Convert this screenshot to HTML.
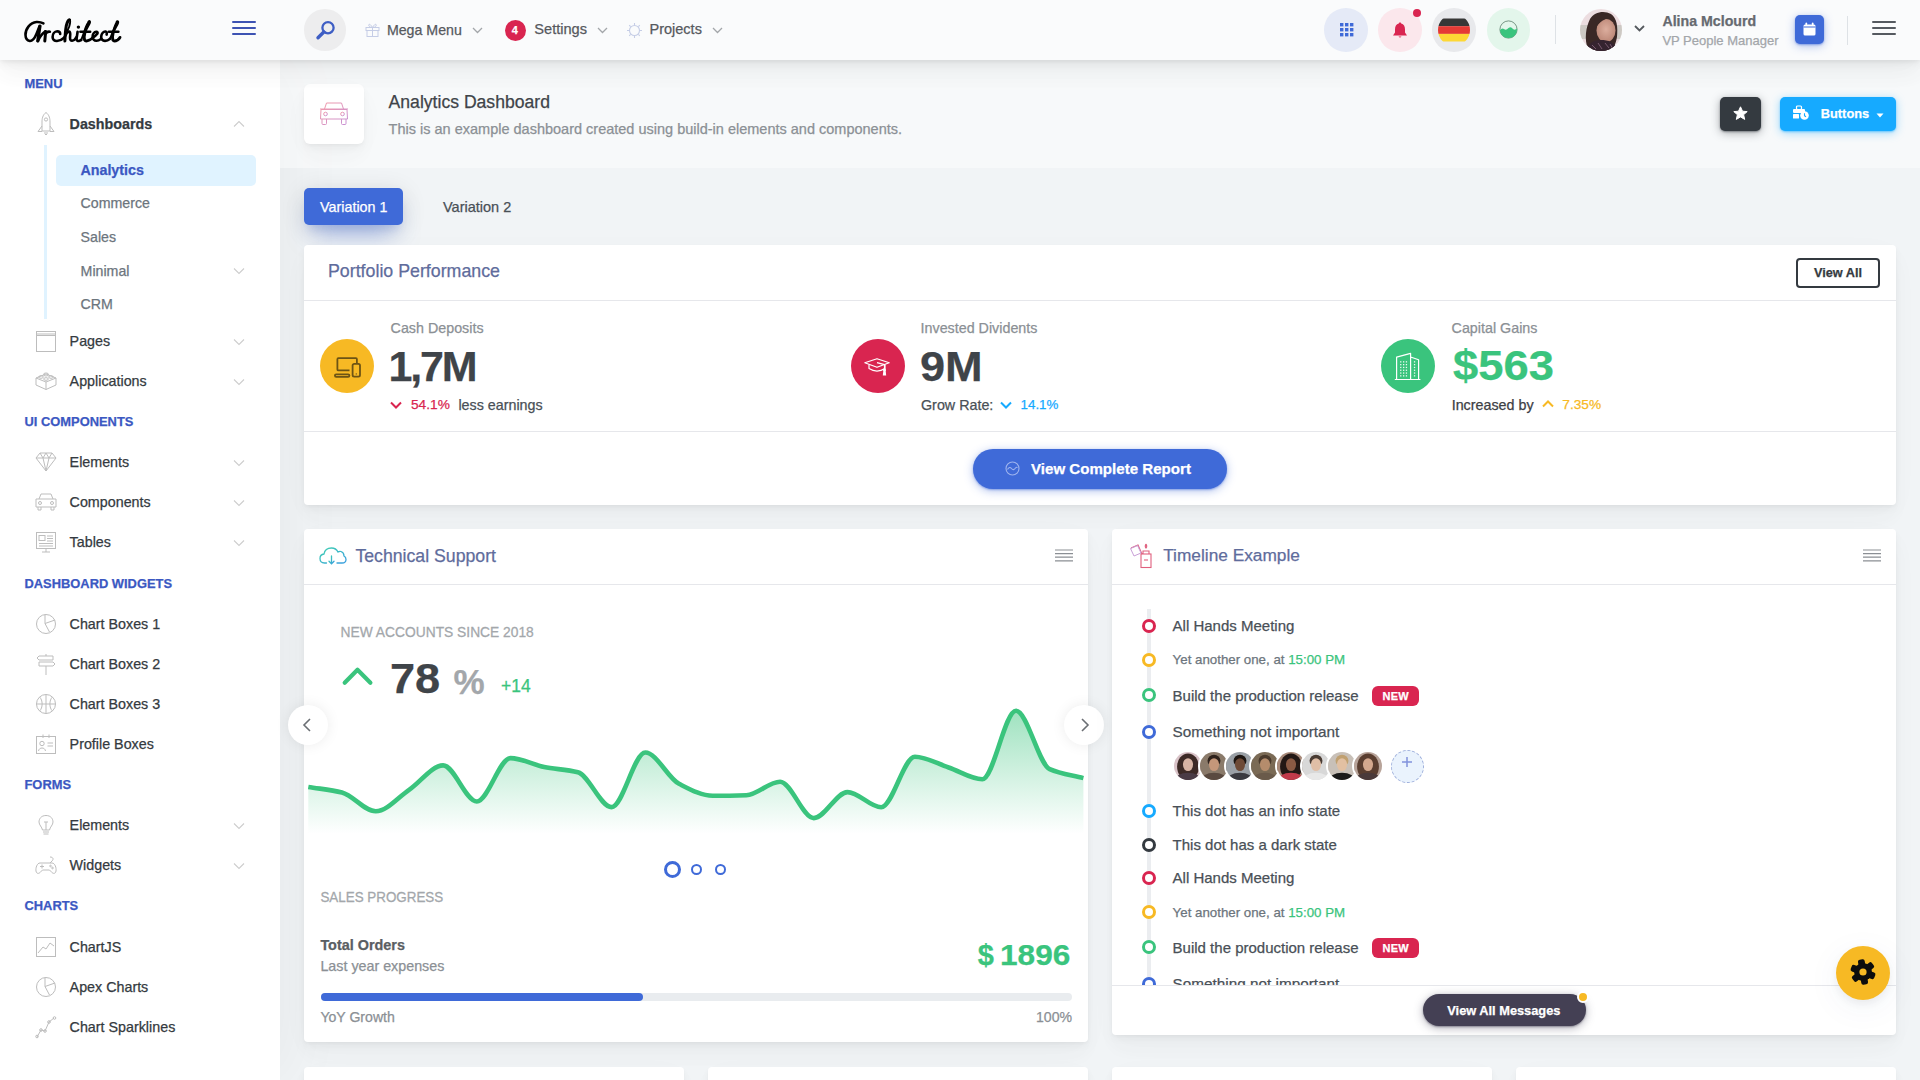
<!DOCTYPE html>
<html><head><meta charset="utf-8"><title>Analytics Dashboard</title>
<style>
html,body{margin:0;padding:0;width:1920px;height:1080px;overflow:hidden;background:#f1f4f6;font-family:"Liberation Sans",sans-serif;}
.a{position:absolute;}
.t{position:absolute;line-height:1;white-space:nowrap;-webkit-text-stroke:0.25px currentColor;}
svg.a{overflow:visible}
</style></head><body>
<div class="a" style="left:0px;top:60px;width:280px;height:1020px;background:#fff;box-shadow:7px 0 60px rgba(0,0,0,.05)"></div>
<div class="t" style="left:24.5px;top:78.03px;font-size:12.9px;color:#3b58c2;font-weight:bold;">MENU</div>
<div class="t" style="left:24.5px;top:416.04px;font-size:12.9px;color:#3b58c2;font-weight:bold;">UI COMPONENTS</div>
<div class="t" style="left:24.5px;top:578.03px;font-size:12.9px;color:#3b58c2;font-weight:bold;">DASHBOARD WIDGETS</div>
<div class="t" style="left:24.5px;top:779.03px;font-size:12.9px;color:#3b58c2;font-weight:bold;">FORMS</div>
<div class="t" style="left:24.5px;top:900.03px;font-size:12.9px;color:#3b58c2;font-weight:bold;">CHARTS</div>
<svg class="a" style="left:35px;top:112px;" width="22" height="24" viewBox="0 0 22 24" fill="none"><path d="M11 0.5 C7.5 3 7 7 7 10 L7 19 L15 19 L15 10 C15 7 14.5 3 11 0.5Z" stroke="#bdbdbd" stroke-width="1"/><circle cx="11" cy="7.5" r="1.6" stroke="#bdbdbd" stroke-width="1"/><path d="M7 14 L3 19.5 L7 19.5 M15 14 L19 19.5 L15 19.5 M9 21 L13 21 M10 22.5 L12 22.5" stroke="#bdbdbd" stroke-width="1"/></svg>
<div class="t" style="left:69.6px;top:117.04px;font-size:14.3px;color:#343a40;font-weight:bold;">Dashboards</div>
<svg class="a" style="left:233px;top:120px;" width="12" height="8" viewBox="0 0 12 8" fill="none"><path d="M1 6.5 L6 1.5 L11 6.5" stroke="#cdcdcd" stroke-width="1.1"/></svg>
<svg class="a" style="left:35px;top:330px;" width="22" height="23" viewBox="0 0 22 23" fill="none"><rect x="1.5" y="1.5" width="19" height="20" stroke="#bdbdbd" stroke-width="1"/><path d="M1.5 4 L20.5 4 M1.5 5.5 L20.5 5.5" stroke="#bdbdbd" stroke-width="1"/></svg>
<div class="t" style="left:69.6px;top:334.04px;font-size:14.3px;color:#343a40;font-weight:normal;">Pages</div>
<svg class="a" style="left:233px;top:337.5px;" width="12" height="8" viewBox="0 0 12 8" fill="none"><path d="M1 1.5 L6 6.5 L11 1.5" stroke="#cdcdcd" stroke-width="1.1"/></svg>
<svg class="a" style="left:35px;top:370px;" width="22" height="22" viewBox="0 0 22 22" fill="none"><path d="M1 8 L11 4 L21 8 L21 15 L11 19.5 L1 15 Z M1 8 L11 12 L21 8 M11 12 L11 19.5" stroke="#bdbdbd" stroke-width="1"/><ellipse cx="11" cy="4.5" rx="2.5" ry="1.5" stroke="#bdbdbd" stroke-width="1"/><ellipse cx="6" cy="7" rx="2.3" ry="1.3" stroke="#bdbdbd" stroke-width="1"/><ellipse cx="16" cy="7" rx="2.3" ry="1.3" stroke="#bdbdbd" stroke-width="1"/><ellipse cx="11" cy="9" rx="2.3" ry="1.3" stroke="#bdbdbd" stroke-width="1"/></svg>
<div class="t" style="left:69.6px;top:374.04px;font-size:14.3px;color:#343a40;font-weight:normal;">Applications</div>
<svg class="a" style="left:233px;top:377.5px;" width="12" height="8" viewBox="0 0 12 8" fill="none"><path d="M1 1.5 L6 6.5 L11 1.5" stroke="#cdcdcd" stroke-width="1.1"/></svg>
<svg class="a" style="left:35px;top:451px;" width="22" height="22" viewBox="0 0 22 22" fill="none"><path d="M1 7 L5 2 L17 2 L21 7 L11 20 Z M1 7 L21 7 M5 2 L8 7 L11 20 L14 7 L17 2 M8 7 L11 2 L14 7" stroke="#bdbdbd" stroke-width="1"/></svg>
<div class="t" style="left:69.6px;top:455.04px;font-size:14.3px;color:#343a40;font-weight:normal;">Elements</div>
<svg class="a" style="left:233px;top:458.5px;" width="12" height="8" viewBox="0 0 12 8" fill="none"><path d="M1 1.5 L6 6.5 L11 1.5" stroke="#cdcdcd" stroke-width="1.1"/></svg>
<svg class="a" style="left:35px;top:491px;" width="22" height="22" viewBox="0 0 22 22" fill="none"><path d="M4 8 L6 3 L16 3 L18 8 M1 8 L21 8 L21 16 L1 16 Z M3 16 L3 19 L6 19 L6 16 M16 16 L16 19 L19 19 L19 16" stroke="#bdbdbd" stroke-width="1"/><circle cx="5" cy="12" r="1.5" stroke="#bdbdbd" stroke-width="1"/><circle cx="17" cy="12" r="1.5" stroke="#bdbdbd" stroke-width="1"/></svg>
<div class="t" style="left:69.6px;top:495.04px;font-size:14.3px;color:#343a40;font-weight:normal;">Components</div>
<svg class="a" style="left:233px;top:498.5px;" width="12" height="8" viewBox="0 0 12 8" fill="none"><path d="M1 1.5 L6 6.5 L11 1.5" stroke="#cdcdcd" stroke-width="1.1"/></svg>
<svg class="a" style="left:35px;top:531px;" width="22" height="22" viewBox="0 0 22 22" fill="none"><rect x="1.5" y="1.5" width="19" height="16" stroke="#bdbdbd" stroke-width="1"/><rect x="4" y="4.5" width="6" height="5" stroke="#bdbdbd" stroke-width="1"/><path d="M12 5 L18 5 M12 7.5 L18 7.5 M12 10 L18 10 M4 12.5 L18 12.5 M4 15 L18 15 M11 17.5 L11 21 M7 21 L15 21" stroke="#bdbdbd" stroke-width="1"/></svg>
<div class="t" style="left:69.6px;top:535.05px;font-size:14.3px;color:#343a40;font-weight:normal;">Tables</div>
<svg class="a" style="left:233px;top:538.5px;" width="12" height="8" viewBox="0 0 12 8" fill="none"><path d="M1 1.5 L6 6.5 L11 1.5" stroke="#cdcdcd" stroke-width="1.1"/></svg>
<svg class="a" style="left:35px;top:613px;" width="22" height="22" viewBox="0 0 22 22" fill="none"><circle cx="11" cy="11" r="9.5" stroke="#bdbdbd" stroke-width="1"/><path d="M10 1.5 L10 10.5 L14.5 19 M10 10.5 L20 7" stroke="#bdbdbd" stroke-width="1"/></svg>
<div class="t" style="left:69.6px;top:617.05px;font-size:14.3px;color:#343a40;font-weight:normal;">Chart Boxes 1</div>
<svg class="a" style="left:35px;top:653px;" width="22" height="22" viewBox="0 0 22 22" fill="none"><path d="M11 1 L11 3 M4 3 L18 3 L18 7 L4 7 L2 5 Z M4 9 L18 9 L20 11 L18 13 L4 13 Z M11 13 L11 22" stroke="#bdbdbd" stroke-width="1"/></svg>
<div class="t" style="left:69.6px;top:657.05px;font-size:14.3px;color:#343a40;font-weight:normal;">Chart Boxes 2</div>
<svg class="a" style="left:35px;top:693px;" width="22" height="22" viewBox="0 0 22 22" fill="none"><circle cx="11" cy="11" r="9.5" stroke="#bdbdbd" stroke-width="1"/><path d="M11 1.5 L11 20.5 M1.5 11 L20.5 11 M4.5 4 C8 7 8 15 4.5 18 M17.5 4 C14 7 14 15 17.5 18" stroke="#bdbdbd" stroke-width="1"/></svg>
<div class="t" style="left:69.6px;top:697.05px;font-size:14.3px;color:#343a40;font-weight:normal;">Chart Boxes 3</div>
<svg class="a" style="left:35px;top:733px;" width="22" height="22" viewBox="0 0 22 22" fill="none"><rect x="1.5" y="3.5" width="19" height="17" stroke="#bdbdbd" stroke-width="1"/><path d="M8 1.5 L8 5 M14 1.5 L14 5 M12.5 10 L18 10 M12.5 13 L18 13 M3.5 18 C4 14 10 14 10.5 18" stroke="#bdbdbd" stroke-width="1"/><circle cx="7" cy="10.5" r="2.2" stroke="#bdbdbd" stroke-width="1"/></svg>
<div class="t" style="left:69.6px;top:737.05px;font-size:14.3px;color:#343a40;font-weight:normal;">Profile Boxes</div>
<svg class="a" style="left:35px;top:814px;" width="22" height="22" viewBox="0 0 22 22" fill="none"><path d="M11 1.5 C6 1.5 4 5 4 8 C4 11 7 13 7.5 16 L14.5 16 C15 13 18 11 18 8 C18 5 16 1.5 11 1.5 Z M8 18 L14 18 M8.5 20 L13.5 20 M11 8 L11 16 M9 8 L13 8" stroke="#bdbdbd" stroke-width="1"/></svg>
<div class="t" style="left:69.6px;top:818.05px;font-size:14.3px;color:#343a40;font-weight:normal;">Elements</div>
<svg class="a" style="left:233px;top:821.5px;" width="12" height="8" viewBox="0 0 12 8" fill="none"><path d="M1 1.5 L6 6.5 L11 1.5" stroke="#cdcdcd" stroke-width="1.1"/></svg>
<svg class="a" style="left:35px;top:854px;" width="22" height="22" viewBox="0 0 22 22" fill="none"><path d="M5 9 L17 9 C20 9 21.5 14 21 17 C20.5 20 18 20 16.5 18 L14.5 16 L7.5 16 L5.5 18 C4 20 1.5 20 1 17 C0.5 14 2 9 5 9 Z M5 12.5 L9 12.5 M7 10.5 L7 14.5 M15 3 C18 3 19 5 17 7 L15 9" stroke="#bdbdbd" stroke-width="1"/><circle cx="15.5" cy="12" r="0.8" stroke="#bdbdbd" stroke-width="1"/><circle cx="17.5" cy="14" r="0.8" stroke="#bdbdbd" stroke-width="1"/></svg>
<div class="t" style="left:69.6px;top:858.05px;font-size:14.3px;color:#343a40;font-weight:normal;">Widgets</div>
<svg class="a" style="left:233px;top:861.5px;" width="12" height="8" viewBox="0 0 12 8" fill="none"><path d="M1 1.5 L6 6.5 L11 1.5" stroke="#cdcdcd" stroke-width="1.1"/></svg>
<svg class="a" style="left:35px;top:936px;" width="22" height="22" viewBox="0 0 22 22" fill="none"><rect x="1.5" y="1.5" width="19" height="19" stroke="#bdbdbd" stroke-width="1"/><path d="M3 17 L8 11 L11 13 L15 7 L19 10" stroke="#bdbdbd" stroke-width="1"/></svg>
<div class="t" style="left:69.6px;top:940.05px;font-size:14.3px;color:#343a40;font-weight:normal;">ChartJS</div>
<svg class="a" style="left:35px;top:976px;" width="22" height="22" viewBox="0 0 22 22" fill="none"><circle cx="11" cy="11" r="9.5" stroke="#bdbdbd" stroke-width="1"/><path d="M10 1.5 L10 10.5 L14.5 19 M10 10.5 L20 7" stroke="#bdbdbd" stroke-width="1"/></svg>
<div class="t" style="left:69.6px;top:980.05px;font-size:14.3px;color:#343a40;font-weight:normal;">Apex Charts</div>
<svg class="a" style="left:35px;top:1016px;" width="22" height="22" viewBox="0 0 22 22" fill="none"><path d="M2 21 L6 14 L10 15 L14 6 L19 2" stroke="#bdbdbd" stroke-width="1"/><circle cx="2" cy="20.5" r="1.3" stroke="#bdbdbd" stroke-width="1"/><circle cx="6" cy="14" r="1.3" stroke="#bdbdbd" stroke-width="1"/><circle cx="10" cy="15" r="1.3" stroke="#bdbdbd" stroke-width="1"/><circle cx="14" cy="6" r="1.3" stroke="#bdbdbd" stroke-width="1"/><circle cx="19.5" cy="2" r="1.3" stroke="#bdbdbd" stroke-width="1"/></svg>
<div class="t" style="left:69.6px;top:1020.05px;font-size:14.3px;color:#343a40;font-weight:normal;">Chart Sparklines</div>
<div class="a" style="left:44px;top:145px;width:3px;height:174px;background:#e0f3ff"></div>
<div class="a" style="left:56px;top:154.5px;width:200px;height:31px;background:#e0f3ff;border-radius:5px"></div>
<div class="t" style="left:80.4px;top:163.04px;font-size:14.3px;color:#3b58c2;font-weight:bold;">Analytics</div>
<div class="t" style="left:80.6px;top:195.93px;font-size:14.2px;color:#6c757d;font-weight:normal;">Commerce</div>
<div class="t" style="left:80.6px;top:229.93px;font-size:14.2px;color:#6c757d;font-weight:normal;">Sales</div>
<div class="t" style="left:80.6px;top:263.93px;font-size:14.2px;color:#6c757d;font-weight:normal;">Minimal</div>
<div class="t" style="left:80.6px;top:296.93px;font-size:14.2px;color:#6c757d;font-weight:normal;">CRM</div>
<svg class="a" style="left:233px;top:267px;" width="12" height="8" viewBox="0 0 12 8" fill="none"><path d="M1 1.5 L6 6.5 L11 1.5" stroke="#cdcdcd" stroke-width="1.1"/></svg>
<div class="a" style="left:280px;top:60px;width:1640px;height:108px;background:rgba(255,255,255,.45)"></div>
<div class="a" style="left:304px;top:84px;width:60px;height:60px;background:#fff;border-radius:6px;box-shadow:0 .46875rem 2.1875rem rgba(4,9,20,.02),0 .9375rem 1.40625rem rgba(4,9,20,.02),0 .25rem .53125rem rgba(4,9,20,.035),0 .125rem .1875rem rgba(4,9,20,.025);"></div>
<svg class="a" style="left:319px;top:101px;" width="30" height="26" viewBox="0 0 30 26" fill="none"><defs><linearGradient id="cg" x1="0" y1="0" x2="1" y2="1"><stop offset="0" stop-color="#f07a8a"/><stop offset="1" stop-color="#b56cc8"/></linearGradient></defs>
<g stroke="url(#cg)" stroke-width="1" opacity=".75"><path d="M5.5 8 L7.5 2 L22.5 2 L24.5 8 M1 8 L29 8 M2 8.5 L28 8.5 L28.5 18 L1.5 18 Z M3 18 L3 22.5 Q3 23.5 4 23.5 L6.5 23.5 Q7.5 23.5 7.5 22.5 L7.5 18 M22.5 18 L22.5 22.5 Q22.5 23.5 23.5 23.5 L26 23.5 Q27 23.5 27 22.5 L27 18"/><circle cx="6.5" cy="13" r="1.8"/><circle cx="23.5" cy="13" r="1.8"/></g></svg>
<div class="t" style="left:388.6px;top:93.74px;font-size:17.6px;color:#3f4449;font-weight:normal;">Analytics Dashboard</div>
<div class="t" style="left:388.6px;top:122.27px;font-size:14.5px;color:#8b9095;font-weight:normal;">This is an example dashboard created using build-in elements and components.</div>
<div class="a" style="left:1720px;top:97px;width:41px;height:34px;background:#343a40;border-radius:5px;box-shadow:0 .125rem .625rem rgba(52,58,64,.4),0 .0625rem .125rem rgba(52,58,64,.5)"></div>
<svg class="a" style="left:1733px;top:106px;" width="15" height="15" viewBox="0 0 15 15" fill="none"><path d="M7.5 0.8 L9.5 5.2 L14.2 5.6 L10.6 8.7 L11.7 13.4 L7.5 10.9 L3.3 13.4 L4.4 8.7 L0.8 5.6 L5.5 5.2 Z" fill="#fff" stroke="#fff" stroke-width="1" stroke-linejoin="round"/></svg>
<div class="a" style="left:1780px;top:97px;width:116px;height:34px;background:#16aaff;border-radius:5px;box-shadow:0 .125rem .625rem rgba(22,170,255,.4),0 .0625rem .125rem rgba(22,170,255,.5)"></div>
<svg class="a" style="left:1792px;top:105px;" width="18" height="15" viewBox="0 0 18 15" fill="none"><g fill="#fff"><rect x="1" y="4" width="12" height="4" rx="1"/><rect x="4.5" y="1" width="5" height="3.5" rx="1" fill="none" stroke="#fff" stroke-width="1.2"/><rect x="1" y="9" width="6" height="4.5" rx="0.6"/><circle cx="12.5" cy="10.5" r="4.3"/></g><path d="M12.5 8.3 L12.5 10.7 L14 11.8" stroke="#16aaff" stroke-width="1.1" fill="none"/></svg>
<div class="t" style="left:1820.8px;top:107.92px;font-size:12.8px;color:#fff;font-weight:bold;">Buttons</div>
<svg class="a" style="left:1876px;top:113px;" width="8" height="5" viewBox="0 0 8 5" fill="none"><path d="M0.5 0.5 L7.5 0.5 L4 4.5 Z" fill="#fff"/></svg>
<div class="a" style="left:304px;top:188px;width:99px;height:37px;background:#3f6ad8;border-radius:5px;box-shadow:0 16px 26px -10px rgba(63,106,216,.56),0 4px 25px 0 rgba(0,0,0,.12),0 8px 10px -5px rgba(63,106,216,.2)"></div>
<div class="t" style="left:320.1px;top:199.75px;font-size:14.3px;color:#fff;font-weight:normal;">Variation 1</div>
<div class="t" style="left:443.0px;top:199.58px;font-size:14.5px;color:#495057;font-weight:normal;">Variation 2</div>
<div class="a" style="left:304px;top:245px;width:1592px;height:260px;background:#fff;border-radius:4px;box-shadow:0 .46875rem 2.1875rem rgba(4,9,20,.02),0 .9375rem 1.40625rem rgba(4,9,20,.02),0 .25rem .53125rem rgba(4,9,20,.035),0 .125rem .1875rem rgba(4,9,20,.025);"></div>
<div class="a" style="left:304px;top:300px;width:1592px;height:1px;background:#e6e7eb"></div>
<div class="a" style="left:304px;top:431px;width:1592px;height:1px;background:#e6e7eb"></div>
<div class="t" style="left:328.0px;top:263.17px;font-size:17.8px;color:#5f6c9c;font-weight:normal;">Portfolio Performance</div>
<div class="a" style="left:1795.5px;top:257.5px;width:84px;height:30px;border:2px solid #343a40;border-radius:4px;box-sizing:border-box"></div>
<div class="t" style="left:1814.0px;top:267.40px;font-size:12.7px;color:#343a40;font-weight:bold;">View All</div>
<div class="a" style="left:320.0px;top:339.0px;width:54px;height:54px;border-radius:50%;background:#f7b924"></div>
<svg class="a" style="left:333px;top:356px;" width="30" height="24" viewBox="0 0 30 24" fill="none"><g stroke="#6d5414" stroke-width="1.8" fill="none"><path d="M16.5 14.4 L5.4 14.4 Q4.4 14.4 4.4 13.4 L4.4 3.2 Q4.4 2.2 5.4 2.2 L22.9 2.2 Q23.9 2.2 23.9 3.2 L23.9 6.9"/><rect x="1.9" y="18.3" width="14.5" height="2.6" rx="1.3"/><rect x="19.6" y="7.8" width="7.4" height="12.9" rx="1.6"/></g><circle cx="23.3" cy="17.9" r=".7" fill="#6d5414"/></svg>
<div class="t" style="left:390.6px;top:320.85px;font-size:14.3px;color:#8b9095;font-weight:normal;">Cash Deposits</div>
<div class="t" style="left:388.5px;top:345.05px;font-size:43px;color:#3f4449;font-weight:bold;letter-spacing:-2.2px">1,7M</div>
<svg class="a" style="left:390px;top:401px;" width="12" height="8" viewBox="0 0 12 8" fill="none"><path d="M1 1.5 L6 6.5 L11 1.5" stroke="#d92550" stroke-width="2"/></svg>
<div class="t" style="left:411.0px;top:398.06px;font-size:13.7px;color:#d92550;font-weight:normal;">54.1%</div>
<div class="t" style="left:458.4px;top:397.54px;font-size:14.3px;color:#495057;font-weight:normal;">less earnings</div>
<div class="a" style="left:851.0px;top:339.0px;width:54px;height:54px;border-radius:50%;background:#d92550"></div>
<svg class="a" style="left:864px;top:356px;" width="28" height="22" viewBox="0 0 28 22" fill="none"><g stroke="#fff" stroke-width="1.2" fill="none" stroke-linejoin="round"><path d="M0.8 6.7 L13 2.7 L25.2 6.7 L13 11.3 Z"/><path d="M5 8.6 L5 12.6 Q13 17.5 21 12.6 L21 8.6"/><path d="M13 6.6 L20.5 8.6 L20.5 13.5"/></g><path d="M19.4 14 L21.6 14 L22.2 19.5 L18.8 19.5 Z" fill="#fff"/><circle cx="20.5" cy="13.8" r="1.5" fill="#fff"/></svg>
<div class="t" style="left:920.6px;top:320.85px;font-size:14.3px;color:#8b9095;font-weight:normal;">Invested Dividents</div>
<div class="t" style="left:919.8px;top:345.05px;font-size:43px;color:#3f4449;font-weight:bold;transform:scaleX(1.05);transform-origin:0 0">9M</div>
<div class="t" style="left:921.0px;top:397.54px;font-size:14.3px;color:#495057;font-weight:normal;">Grow Rate:</div>
<svg class="a" style="left:1000px;top:401px;" width="12" height="8" viewBox="0 0 12 8" fill="none"><path d="M1 1.5 L6 6.5 L11 1.5" stroke="#16aaff" stroke-width="2"/></svg>
<div class="t" style="left:1020.6px;top:398.39px;font-size:13.3px;color:#16aaff;font-weight:normal;">14.1%</div>
<div class="a" style="left:1381.0px;top:339.0px;width:54px;height:54px;border-radius:50%;background:#3ac47d"></div>
<svg class="a" style="left:1394px;top:352px;" width="28" height="30" viewBox="0 0 28 30" fill="none"><g stroke="#fff" stroke-width="1.2" fill="none" stroke-linejoin="round"><path d="M0.8 27.5 L26.4 27.5 M2.6 27.5 L2.6 5.2 L16.6 1.3 L16.6 27.5 M16.6 5 L24.6 7.8 L24.6 27.5"/></g><g fill="#fff" opacity=".9"><rect x="6.1000000000000005" y="9.2" width="1.3" height="1.3"/><rect x="6.1000000000000005" y="12.0" width="1.3" height="1.3"/><rect x="6.1000000000000005" y="14.799999999999999" width="1.3" height="1.3"/><rect x="6.1000000000000005" y="17.599999999999998" width="1.3" height="1.3"/><rect x="6.1000000000000005" y="20.4" width="1.3" height="1.3"/><rect x="6.1000000000000005" y="23.2" width="1.3" height="1.3"/><rect x="9.0" y="9.2" width="1.3" height="1.3"/><rect x="9.0" y="12.0" width="1.3" height="1.3"/><rect x="9.0" y="14.799999999999999" width="1.3" height="1.3"/><rect x="9.0" y="17.599999999999998" width="1.3" height="1.3"/><rect x="9.0" y="20.4" width="1.3" height="1.3"/><rect x="9.0" y="23.2" width="1.3" height="1.3"/><rect x="11.8" y="9.2" width="1.3" height="1.3"/><rect x="11.8" y="12.0" width="1.3" height="1.3"/><rect x="11.8" y="14.799999999999999" width="1.3" height="1.3"/><rect x="11.8" y="17.599999999999998" width="1.3" height="1.3"/><rect x="11.8" y="20.4" width="1.3" height="1.3"/><rect x="11.8" y="23.2" width="1.3" height="1.3"/><rect x="19.9" y="9.2" width="1.3" height="1.3"/><rect x="19.9" y="12.0" width="1.3" height="1.3"/><rect x="19.9" y="14.799999999999999" width="1.3" height="1.3"/><rect x="19.9" y="17.599999999999998" width="1.3" height="1.3"/><rect x="19.9" y="20.4" width="1.3" height="1.3"/><rect x="19.9" y="23.2" width="1.3" height="1.3"/></g></svg>
<div class="t" style="left:1451.6px;top:320.85px;font-size:14.3px;color:#8b9095;font-weight:normal;">Capital Gains</div>
<div class="t" style="left:1452.5px;top:344.25px;font-size:43px;color:#3ac47d;font-weight:bold;transform:scaleX(1.055);transform-origin:0 0">$563</div>
<div class="t" style="left:1451.7px;top:397.64px;font-size:14.3px;color:#3d4045;font-weight:normal;">Increased by</div>
<svg class="a" style="left:1542px;top:400px;" width="12" height="8" viewBox="0 0 12 8" fill="none"><path d="M1 6.5 L6 1.5 L11 6.5" stroke="#f7b924" stroke-width="2"/></svg>
<div class="t" style="left:1562.3px;top:398.16px;font-size:13.7px;color:#f7b924;font-weight:normal;">7.35%</div>
<div class="a" style="left:973px;top:448.5px;width:254px;height:40.5px;background:#3f6ad8;border-radius:21px;box-shadow:0 .125rem .625rem rgba(63,106,216,.4),0 .0625rem .125rem rgba(63,106,216,.5)"></div>
<svg class="a" style="left:1005px;top:461px;" width="15" height="15" viewBox="0 0 15 15" fill="none"><g stroke="#9fb4ee" stroke-width="1.1" fill="none"><circle cx="7.5" cy="7.5" r="6.5"/><path d="M2.5 8.5 Q4.5 5 6.5 7.5 Q8.5 10 10.5 7 Q11.5 5.8 12.5 6.5"/></g></svg>
<div class="t" style="left:1031.0px;top:460.67px;font-size:15.1px;color:#fff;font-weight:bold;">View Complete Report</div>
<div class="a" style="left:304px;top:529px;width:784px;height:513px;background:#fff;border-radius:4px;box-shadow:0 .46875rem 2.1875rem rgba(4,9,20,.02),0 .9375rem 1.40625rem rgba(4,9,20,.02),0 .25rem .53125rem rgba(4,9,20,.035),0 .125rem .1875rem rgba(4,9,20,.025);"></div>
<div class="a" style="left:304px;top:584px;width:784px;height:1px;background:#e6e7eb"></div>
<svg class="a" style="left:319px;top:547px;" width="28" height="19" viewBox="0 0 28 19" fill="none"><defs><linearGradient id="clg" x1="0" y1="0" x2="1" y2="1"><stop offset="0" stop-color="#3fd0b0"/><stop offset="1" stop-color="#3a9ee0"/></linearGradient></defs><g stroke="url(#clg)" stroke-width="1.3" fill="none" stroke-linecap="round"><path d="M7.5 16 L5.5 16 Q1 16 1 11.5 Q1 7.5 5 7 Q6 1 12.5 1 Q17 1 19 5 Q20.5 4 22 4.5 Q25 5.5 25 9 Q27 10 27 12.5 Q27 16 23 16 L18 16"/><path d="M12.5 9 L12.5 16.8 M10 14.3 L12.5 16.8 L15 14.3"/></g></svg>
<div class="t" style="left:355.4px;top:547.96px;font-size:17.7px;color:#5f6c9c;font-weight:normal;">Technical Support</div>
<svg class="a" style="left:1055px;top:549px;" width="18" height="14" viewBox="0 0 18 14" fill="none"><g stroke="#8b8f94" stroke-width="1.2"><path d="M0 1 H18 M0 4.6 H18 M0 8.2 H18 M0 11.8 H18"/></g></svg>
<div class="t" style="left:340.6px;top:625.77px;font-size:13.8px;color:#a3a7ab;font-weight:normal;transform:scaleY(1.05);transform-origin:0 85%">NEW ACCOUNTS SINCE 2018</div>
<svg class="a" style="left:341px;top:666px;" width="32" height="21" viewBox="0 0 32 21" fill="none"><path d="M3.7 16.7 L16.5 3.8 L29.4 16.7" stroke="#3ac47d" stroke-width="4.2" stroke-linecap="round" stroke-linejoin="round"/></svg>
<div class="t" style="left:389.8px;top:657.45px;font-size:43px;color:#3f4449;font-weight:bold;transform:scaleX(1.05);transform-origin:0 0">78</div>
<div class="t" style="left:453.5px;top:664.25px;font-size:35px;color:#a3a7ab;font-weight:bold;">%</div>
<div class="t" style="left:501.0px;top:678.42px;font-size:17.5px;color:#3ac47d;font-weight:normal;">+14</div>
<svg class="a" style="left:300px;top:690px" width="800" height="150" viewBox="300 690 800 150">
<defs><linearGradient id="gf" gradientUnits="userSpaceOnUse" x1="0" y1="708" x2="0" y2="834"><stop offset="0" stop-color="#3ac47d" stop-opacity=".5"/><stop offset=".55" stop-color="#3ac47d" stop-opacity=".22"/><stop offset="1" stop-color="#3ac47d" stop-opacity="0"/></linearGradient></defs>
<path d="M308.3,786.9 C319.5,788.8 330.8,789.6 342.0,792.5 C353.2,795.4 364.5,811.3 375.7,811.3 C386.9,811.3 398.2,797.2 409.4,789.6 C420.6,782.0 431.9,765.4 443.1,765.4 C454.3,765.4 465.6,801.5 476.8,801.5 C488.0,801.5 499.3,758.1 510.5,758.1 C521.7,758.1 533.0,764.9 544.2,767.1 C555.4,769.3 566.7,769.3 577.9,772.3 C589.1,775.3 600.4,807.1 611.6,807.1 C622.8,807.1 634.1,752.5 645.3,752.5 C656.5,752.5 667.8,778.0 679.0,783.8 C690.2,789.5 701.5,795.8 712.7,795.8 C723.9,795.8 735.2,795.6 746.4,795.2 C757.6,794.8 768.9,781.7 780.1,781.7 C791.3,781.7 802.6,818.1 813.8,818.1 C825.0,818.1 836.3,792.1 847.5,792.1 C858.7,792.1 870.0,807.3 881.2,807.3 C892.4,807.3 903.7,756.7 914.9,756.7 C926.1,756.7 937.4,763.8 948.6,767.5 C959.8,771.2 971.1,779.2 982.3,779.2 C993.5,779.2 1004.8,710.8 1016.0,710.8 C1027.2,710.8 1038.5,764.1 1049.7,769.2 C1060.9,774.3 1072.2,775.1 1083.4,778.1 L1083.4,834 L308.3,834 Z" fill="url(#gf)"/>
<path d="M308.3,786.9 C319.5,788.8 330.8,789.6 342.0,792.5 C353.2,795.4 364.5,811.3 375.7,811.3 C386.9,811.3 398.2,797.2 409.4,789.6 C420.6,782.0 431.9,765.4 443.1,765.4 C454.3,765.4 465.6,801.5 476.8,801.5 C488.0,801.5 499.3,758.1 510.5,758.1 C521.7,758.1 533.0,764.9 544.2,767.1 C555.4,769.3 566.7,769.3 577.9,772.3 C589.1,775.3 600.4,807.1 611.6,807.1 C622.8,807.1 634.1,752.5 645.3,752.5 C656.5,752.5 667.8,778.0 679.0,783.8 C690.2,789.5 701.5,795.8 712.7,795.8 C723.9,795.8 735.2,795.6 746.4,795.2 C757.6,794.8 768.9,781.7 780.1,781.7 C791.3,781.7 802.6,818.1 813.8,818.1 C825.0,818.1 836.3,792.1 847.5,792.1 C858.7,792.1 870.0,807.3 881.2,807.3 C892.4,807.3 903.7,756.7 914.9,756.7 C926.1,756.7 937.4,763.8 948.6,767.5 C959.8,771.2 971.1,779.2 982.3,779.2 C993.5,779.2 1004.8,710.8 1016.0,710.8 C1027.2,710.8 1038.5,764.1 1049.7,769.2 C1060.9,774.3 1072.2,775.1 1083.4,778.1" fill="none" stroke="#3ac47d" stroke-width="4.6" stroke-linejoin="round"/>
</svg>
<div class="a" style="left:287.5px;top:705.0px;width:40px;height:40px;border-radius:50%;background:#fff;box-shadow:0 0 14px rgba(0,0,0,.08)"></div>
<svg class="a" style="left:295.5px;top:713px;" width="24" height="24" viewBox="0 0 24 24" fill="none"><path d="M14 6 L8 12 L14 18" stroke="#6b6f74" stroke-width="1.6" fill="none"/></svg>
<div class="a" style="left:1064.0px;top:705.0px;width:40px;height:40px;border-radius:50%;background:#fff;box-shadow:0 0 14px rgba(0,0,0,.08)"></div>
<svg class="a" style="left:1072px;top:713px;" width="24" height="24" viewBox="0 0 24 24" fill="none"><path d="M10 6 L16 12 L10 18" stroke="#6b6f74" stroke-width="1.6" fill="none"/></svg>
<div class="a" style="left:663.5px;top:860.5px;width:17px;height:17px;border-radius:50%;border:3px solid #3f6ad8;box-sizing:border-box;background:#fff"></div>
<div class="a" style="left:690.5px;top:863.5px;width:11px;height:11px;border-radius:50%;border:2px solid #3f6ad8;box-sizing:border-box;background:#fff"></div>
<div class="a" style="left:714.5px;top:863.5px;width:11px;height:11px;border-radius:50%;border:2px solid #3f6ad8;box-sizing:border-box;background:#fff"></div>
<div class="t" style="left:320.4px;top:890.81px;font-size:13.4px;color:#a3a7ab;font-weight:normal;transform:scaleY(1.1);transform-origin:0 85%">SALES PROGRESS</div>
<div class="t" style="left:320.4px;top:938.26px;font-size:14.4px;color:#5a5e63;font-weight:bold;">Total Orders</div>
<div class="t" style="left:320.4px;top:959.45px;font-size:14.3px;color:#8b9095;font-weight:normal;">Last year expenses</div>
<div class="t" style="left:977.8px;top:940.65px;font-size:29px;color:#3ac47d;font-weight:bold;">$</div>
<div class="t" style="left:999.5px;top:940.65px;font-size:29px;color:#3ac47d;font-weight:bold;transform:scaleX(1.09);transform-origin:0 0">1896</div>
<div class="a" style="left:320.5px;top:993px;width:751.5px;height:8px;background:#e9ecef;border-radius:4px"></div>
<div class="a" style="left:320.5px;top:993px;width:322.5px;height:8px;background:#3f6ad8;border-radius:4px"></div>
<div class="t" style="left:320.4px;top:1010.31px;font-size:14.1px;color:#8b9095;font-weight:normal;">YoY Growth</div>
<div class="t" style="right:848px;top:1010.31px;font-size:14.1px;color:#8b9095">100%</div>
<div class="a" style="left:1112px;top:529px;width:784px;height:506px;background:#fff;border-radius:4px;box-shadow:0 .46875rem 2.1875rem rgba(4,9,20,.02),0 .9375rem 1.40625rem rgba(4,9,20,.02),0 .25rem .53125rem rgba(4,9,20,.035),0 .125rem .1875rem rgba(4,9,20,.025);"></div>
<div class="a" style="left:1112px;top:584px;width:784px;height:1px;background:#e6e7eb"></div>
<svg class="a" style="left:1129px;top:543px;" width="26" height="26" viewBox="0 0 26 26" fill="none"><g stroke="#e0607e" stroke-width="1.1" fill="none"><rect x="12" y="11" width="10" height="13.5"/><path d="M14 11 L14 8 L20 8 L20 11 M17 1 Q15.5 3.5 17 5 Q18.5 3.5 17 1 M2 5 L9 2 L13 11"/><path d="M15 17 L19 17"/></g><path d="M1.5 5.5 L8.5 2.5 L12 10 L5 13Z" stroke="#c9a0d8" stroke-width="1" fill="none"/></svg>
<div class="t" style="left:1163.2px;top:547.19px;font-size:17.3px;color:#5f6c9c;font-weight:normal;">Timeline Example</div>
<svg class="a" style="left:1863px;top:549px;" width="18" height="14" viewBox="0 0 18 14" fill="none"><g stroke="#8b8f94" stroke-width="1.2"><path d="M0 1 H18 M0 4.6 H18 M0 8.2 H18 M0 11.8 H18"/></g></svg>
<div class="a" style="left:1147px;top:609px;width:4px;height:376px;background:#ebedf0"></div>
<div class="a" style="left:1112px;top:585px;width:784px;height:400px;overflow:hidden">
<div class="a" style="left:30px;top:34px;width:14px;height:14px;border-radius:50%;border:3.1px solid #d92550;box-sizing:border-box;background:#fff"></div>
<div class="t" style="left:60.59999999999991px;top:33.45px;font-size:15px;color:#495057">All Hands Meeting</div>
<div class="a" style="left:30px;top:68.10000000000002px;width:14px;height:14px;border-radius:50%;border:3.1px solid #f7b924;box-sizing:border-box;background:#fff"></div>
<div class="t" style="left:60.59999999999991px;top:68.40px;font-size:13.3px;color:#6c757d">Yet another one, at <span style="color:#3ac47d">15:00 PM</span></div>
<div class="a" style="left:30px;top:103.10000000000002px;width:14px;height:14px;border-radius:50%;border:3.1px solid #3ac47d;box-sizing:border-box;background:#fff"></div>
<div class="t" style="left:60.59999999999991px;top:102.55px;font-size:15px;color:#495057">Build the production release</div>
<div class="a" style="left:260px;top:101.10000000000002px;width:46.5px;height:20.3px;border-radius:6px;background:#d92550"></div>
<div class="t" style="left:270.5px;top:106.25px;font-size:11px;color:#fff;font-weight:bold;letter-spacing:.2px">NEW</div>
<div class="a" style="left:30px;top:139.89999999999998px;width:14px;height:14px;border-radius:50%;border:3.1px solid #3f6ad8;box-sizing:border-box;background:#fff"></div>
<div class="t" style="left:60.59999999999991px;top:139.09px;font-size:15.3px;color:#495057">Something not important</div>
<div class="a" style="left:30px;top:218.5px;width:14px;height:14px;border-radius:50%;border:3.1px solid #16aaff;box-sizing:border-box;background:#fff"></div>
<div class="t" style="left:60.59999999999991px;top:217.95px;font-size:15px;color:#495057">This dot has an info state</div>
<div class="a" style="left:30px;top:252.70000000000005px;width:14px;height:14px;border-radius:50%;border:3.1px solid #343a40;box-sizing:border-box;background:#fff"></div>
<div class="t" style="left:60.59999999999991px;top:252.15px;font-size:15px;color:#495057">This dot has a dark state</div>
<div class="a" style="left:30px;top:286px;width:14px;height:14px;border-radius:50%;border:3.1px solid #d92550;box-sizing:border-box;background:#fff"></div>
<div class="t" style="left:60.59999999999991px;top:285.45px;font-size:15px;color:#495057">All Hands Meeting</div>
<div class="a" style="left:30px;top:320.20000000000005px;width:14px;height:14px;border-radius:50%;border:3.1px solid #f7b924;box-sizing:border-box;background:#fff"></div>
<div class="t" style="left:60.59999999999991px;top:320.50px;font-size:13.3px;color:#6c757d">Yet another one, at <span style="color:#3ac47d">15:00 PM</span></div>
<div class="a" style="left:30px;top:355.20000000000005px;width:14px;height:14px;border-radius:50%;border:3.1px solid #3ac47d;box-sizing:border-box;background:#fff"></div>
<div class="t" style="left:60.59999999999991px;top:354.65px;font-size:15px;color:#495057">Build the production release</div>
<div class="a" style="left:260px;top:353.20000000000005px;width:46.5px;height:20.3px;border-radius:6px;background:#d92550"></div>
<div class="t" style="left:270.5px;top:358.35px;font-size:11px;color:#fff;font-weight:bold;letter-spacing:.2px">NEW</div>
<div class="a" style="left:30px;top:391.79999999999995px;width:14px;height:14px;border-radius:50%;border:3.1px solid #3f6ad8;box-sizing:border-box;background:#fff"></div>
<div class="t" style="left:60.59999999999991px;top:390.99px;font-size:15.3px;color:#495057">Something not important</div>
</div>
<svg class="a" style="left:1174.4px;top:752.0px;border-radius:50%;box-shadow:0 0 0 2px #fff;" width="28" height="28" viewBox="0 0 28 28"><defs><clipPath id="ca0"><circle cx="14.0" cy="14.0" r="14.0"/></clipPath></defs><g clip-path="url(#ca0)">
<rect width="28" height="28" fill="#d9c3c8"/><ellipse cx="14.0" cy="14.700000000000001" rx="10.92" ry="13.299999999999999" fill="#3d2a26"/>
<ellipse cx="14.0" cy="28.560000000000002" rx="13.299999999999999" ry="7.700000000000001" fill="#4a3b45"/>
<ellipse cx="14.0" cy="8.68" rx="6.44" ry="5.88" fill="#3d2a26"/>
<ellipse cx="14.0" cy="12.6" rx="5.04" ry="6.44" fill="#d8b4a4"/>
</g></svg>
<svg class="a" style="left:1200.0px;top:752.0px;border-radius:50%;box-shadow:0 0 0 2px #fff;" width="28" height="28" viewBox="0 0 28 28"><defs><clipPath id="ca1"><circle cx="14.0" cy="14.0" r="14.0"/></clipPath></defs><g clip-path="url(#ca1)">
<rect width="28" height="28" fill="#8a7a6a"/>
<ellipse cx="14.0" cy="28.560000000000002" rx="13.299999999999999" ry="7.700000000000001" fill="#5a4a40"/>
<ellipse cx="14.0" cy="8.68" rx="6.44" ry="5.88" fill="#2e221c"/>
<ellipse cx="14.0" cy="12.6" rx="5.04" ry="6.44" fill="#c4977a"/>
</g></svg>
<svg class="a" style="left:1225.6000000000001px;top:752.0px;border-radius:50%;box-shadow:0 0 0 2px #fff;" width="28" height="28" viewBox="0 0 28 28"><defs><clipPath id="ca2"><circle cx="14.0" cy="14.0" r="14.0"/></clipPath></defs><g clip-path="url(#ca2)">
<rect width="28" height="28" fill="#9aa0a6"/>
<ellipse cx="14.0" cy="28.560000000000002" rx="13.299999999999999" ry="7.700000000000001" fill="#3a3a40"/>
<ellipse cx="14.0" cy="8.68" rx="6.44" ry="5.88" fill="#1e1612"/>
<ellipse cx="14.0" cy="12.6" rx="5.04" ry="6.44" fill="#6e4a36"/>
</g></svg>
<svg class="a" style="left:1251.2px;top:752.0px;border-radius:50%;box-shadow:0 0 0 2px #fff;" width="28" height="28" viewBox="0 0 28 28"><defs><clipPath id="ca3"><circle cx="14.0" cy="14.0" r="14.0"/></clipPath></defs><g clip-path="url(#ca3)">
<rect width="28" height="28" fill="#7a6a55"/>
<ellipse cx="14.0" cy="28.560000000000002" rx="13.299999999999999" ry="7.700000000000001" fill="#6a5a4a"/>
<ellipse cx="14.0" cy="8.68" rx="6.44" ry="5.88" fill="#4a3a2c"/>
<ellipse cx="14.0" cy="12.6" rx="5.04" ry="6.44" fill="#b58c6c"/>
</g></svg>
<svg class="a" style="left:1276.8000000000002px;top:752.0px;border-radius:50%;box-shadow:0 0 0 2px #fff;" width="28" height="28" viewBox="0 0 28 28"><defs><clipPath id="ca4"><circle cx="14.0" cy="14.0" r="14.0"/></clipPath></defs><g clip-path="url(#ca4)">
<rect width="28" height="28" fill="#a88a7a"/><ellipse cx="14.0" cy="14.700000000000001" rx="10.92" ry="13.299999999999999" fill="#231815"/>
<ellipse cx="14.0" cy="28.560000000000002" rx="13.299999999999999" ry="7.700000000000001" fill="#c03a4a"/>
<ellipse cx="14.0" cy="8.68" rx="6.44" ry="5.88" fill="#231815"/>
<ellipse cx="14.0" cy="12.6" rx="5.04" ry="6.44" fill="#8a5a44"/>
</g></svg>
<svg class="a" style="left:1302.4px;top:752.0px;border-radius:50%;box-shadow:0 0 0 2px #fff;" width="28" height="28" viewBox="0 0 28 28"><defs><clipPath id="ca5"><circle cx="14.0" cy="14.0" r="14.0"/></clipPath></defs><g clip-path="url(#ca5)">
<rect width="28" height="28" fill="#d8d8d8"/>
<ellipse cx="14.0" cy="28.560000000000002" rx="13.299999999999999" ry="7.700000000000001" fill="#e8e8e8"/>
<ellipse cx="14.0" cy="8.68" rx="6.44" ry="5.88" fill="#4a3c34"/>
<ellipse cx="14.0" cy="12.6" rx="5.04" ry="6.44" fill="#e0bea6"/>
</g></svg>
<svg class="a" style="left:1328.0px;top:752.0px;border-radius:50%;box-shadow:0 0 0 2px #fff;" width="28" height="28" viewBox="0 0 28 28"><defs><clipPath id="ca6"><circle cx="14.0" cy="14.0" r="14.0"/></clipPath></defs><g clip-path="url(#ca6)">
<rect width="28" height="28" fill="#c8c0b8"/>
<ellipse cx="14.0" cy="28.560000000000002" rx="13.299999999999999" ry="7.700000000000001" fill="#1a1a1a"/>
<ellipse cx="14.0" cy="8.68" rx="6.44" ry="5.88" fill="#c0a070"/>
<ellipse cx="14.0" cy="12.6" rx="5.04" ry="6.44" fill="#e2c0a2"/>
</g></svg>
<svg class="a" style="left:1353.6000000000001px;top:752.0px;border-radius:50%;box-shadow:0 0 0 2px #fff;" width="28" height="28" viewBox="0 0 28 28"><defs><clipPath id="ca7"><circle cx="14.0" cy="14.0" r="14.0"/></clipPath></defs><g clip-path="url(#ca7)">
<rect width="28" height="28" fill="#b8a49a"/><ellipse cx="14.0" cy="14.700000000000001" rx="10.92" ry="13.299999999999999" fill="#5a3e30"/>
<ellipse cx="14.0" cy="28.560000000000002" rx="13.299999999999999" ry="7.700000000000001" fill="#4a3a3a"/>
<ellipse cx="14.0" cy="8.68" rx="6.44" ry="5.88" fill="#5a3e30"/>
<ellipse cx="14.0" cy="12.6" rx="5.04" ry="6.44" fill="#d4a88e"/>
</g></svg>
<div class="a" style="left:1390.5px;top:750.0px;width:33px;height:33px;border-radius:50%;background:#eaf3fd;border:1px dashed #9fb0dc;box-sizing:border-box"></div>
<svg class="a" style="left:1401.2px;top:756px;" width="12" height="12" viewBox="0 0 12 12" fill="none"><path d="M6 1 L6 11 M1 6 L11 6" stroke="#8193dc" stroke-width="1.5"/></svg>
<div class="a" style="left:1112px;top:985px;width:784px;height:1px;background:#e6e7eb"></div>
<div class="a" style="left:1422.5px;top:994px;width:163px;height:32px;background:#444054;border-radius:16px;box-shadow:0 .125rem .625rem rgba(68,64,84,.4),0 .0625rem .125rem rgba(68,64,84,.5)"></div>
<div class="t" style="left:1447.3px;top:1004.62px;font-size:12.8px;color:#fff;font-weight:bold;">View All Messages</div>
<div class="a" style="left:1576.55px;top:990.85px;width:12.5px;height:12.5px;border-radius:50%;background:#f7b924;border:2px solid #fff;box-sizing:border-box"></div>
<div class="a" style="left:304px;top:1066.5px;width:380px;height:40px;background:#fff;border-radius:4px;box-shadow:0 .46875rem 2.1875rem rgba(4,9,20,.02),0 .9375rem 1.40625rem rgba(4,9,20,.02),0 .25rem .53125rem rgba(4,9,20,.035),0 .125rem .1875rem rgba(4,9,20,.025);"></div>
<div class="a" style="left:708px;top:1066.5px;width:380px;height:40px;background:#fff;border-radius:4px;box-shadow:0 .46875rem 2.1875rem rgba(4,9,20,.02),0 .9375rem 1.40625rem rgba(4,9,20,.02),0 .25rem .53125rem rgba(4,9,20,.035),0 .125rem .1875rem rgba(4,9,20,.025);"></div>
<div class="a" style="left:1112px;top:1066.5px;width:380px;height:40px;background:#fff;border-radius:4px;box-shadow:0 .46875rem 2.1875rem rgba(4,9,20,.02),0 .9375rem 1.40625rem rgba(4,9,20,.02),0 .25rem .53125rem rgba(4,9,20,.035),0 .125rem .1875rem rgba(4,9,20,.025);"></div>
<div class="a" style="left:1516px;top:1066.5px;width:380px;height:40px;background:#fff;border-radius:4px;box-shadow:0 .46875rem 2.1875rem rgba(4,9,20,.02),0 .9375rem 1.40625rem rgba(4,9,20,.02),0 .25rem .53125rem rgba(4,9,20,.035),0 .125rem .1875rem rgba(4,9,20,.025);"></div>
<div class="a" style="left:1836.0px;top:945.6px;width:54px;height:54px;border-radius:50%;background:#f7b924;box-shadow:0 .46875rem 2.1875rem rgba(40,60,140,.06),0 .25rem .53125rem rgba(4,9,20,.06)"></div>
<svg class="a" style="left:1849.5px;top:959.3px;" width="26" height="26" viewBox="0 0 26 26" fill="none"><rect x="-3.4" y="-12.6" width="6.8" height="7" rx="2" fill="#0d0d0d" transform="translate(13 13) rotate(-9)"/><rect x="-3.4" y="-12.6" width="6.8" height="7" rx="2" fill="#0d0d0d" transform="translate(13 13) rotate(51)"/><rect x="-3.4" y="-12.6" width="6.8" height="7" rx="2" fill="#0d0d0d" transform="translate(13 13) rotate(111)"/><rect x="-3.4" y="-12.6" width="6.8" height="7" rx="2" fill="#0d0d0d" transform="translate(13 13) rotate(171)"/><rect x="-3.4" y="-12.6" width="6.8" height="7" rx="2" fill="#0d0d0d" transform="translate(13 13) rotate(231)"/><rect x="-3.4" y="-12.6" width="6.8" height="7" rx="2" fill="#0d0d0d" transform="translate(13 13) rotate(291)"/><circle cx="13" cy="13" r="8.9" fill="#0d0d0d"/><circle cx="13" cy="13" r="3.6" fill="#f7b924"/></svg>
<div class="a" style="left:0px;top:0px;width:1920px;height:60px;background:#fafbfc;box-shadow:0 .46875rem 2.1875rem rgba(4,9,20,.03),0 .9375rem 1.40625rem rgba(4,9,20,.03),0 .25rem .53125rem rgba(4,9,20,.05),0 .125rem .1875rem rgba(4,9,20,.03)"></div>
<svg class="a" style="left:20px;top:14px;" width="105" height="32" viewBox="0 0 105 32" fill="none"><g stroke="#000" stroke-width="2.6" fill="none" stroke-linecap="round" stroke-linejoin="round" transform="translate(-20,-14)">
<path d="M43.4,23.4 C41.5,22.3 38.7,21.9 36.5,22 C33.5,22.3 30.5,24 28.4,26.6 C26.5,29 25.4,32 25.5,35 C25.6,38 27,40.5 29.8,41 C32.5,41.2 34.5,38.5 36.2,34.5 C37.3,31.8 38.4,28.8 39.4,26.4"/>
<path d="M40,26.1 C39.4,30 38.5,35 37.8,41" stroke-width="3.2"/>
<path d="M37.8,41 C39.5,37.5 42,33.5 45.4,31.4"/>
<path d="M45.6,31.4 C45.4,34.5 45.1,38 44.8,41" stroke-width="3"/>
<path d="M45.5,34 C46.3,32.3 47.8,31.4 49.9,31.7"/>
<path d="M60.2,34 C60.2,32.2 59,31.2 57.2,31.2 C54.5,31.3 52.6,34 52.6,37 C52.6,39.5 54.3,41.1 57,41 C59.7,40.9 62,39.6 63.8,38"/>
<path d="M63.8,38 C65.5,35 67.8,30.5 69.2,26.5 C70.1,23.5 70.6,20.5 69.6,19.9" stroke-width="2"/><path d="M69.6,19.9 C68.3,19.6 67.1,22.5 66.3,25.7 C65.6,29.5 65.1,35 64.9,41" stroke-width="3"/>
<path d="M65.3,35.8 C66.3,33.2 67.8,31.5 69.2,31.6 C70.5,31.8 70.4,34 70.1,36.5 C69.8,39 70.2,40.8 72,40.7 C73.7,40.6 75.5,39 76.5,37"/>
<path d="M77.6,31.8 C77.2,34.5 76.6,37.5 76.6,39.5 C76.7,40.8 78,41.2 79.2,40.9 C80,40.6 80.6,40.3 81.2,40"/>
<path d="M81.2,40 C82.3,37.5 83.6,33.5 84.8,30 C86.1,26 87.5,22.8 89,21.7" stroke-width="2"/><path d="M89,21.7 C90,21.1 89.6,22.8 88.6,24.5 C87.3,26.8 85.7,29.5 85,32 C84.3,34.7 83.9,38 84.6,40 C85.3,41.2 87.5,41 89.5,40 C90.5,39.5 91.3,39 91.9,38.5" stroke-width="2.9"/>
<path d="M80.4,31.7 L90.2,31.7" stroke-width="2.5"/>
<path d="M91.9,38.5 C93.8,37.3 96,35.5 97.3,33.8 C98,32.6 97.5,31.6 96.2,31.7 C94.3,31.9 92.7,34 92.6,36.5 C92.5,39.2 94.2,40.9 96.6,40.8 C98.3,40.7 99.5,40 100.6,39.2"/>
<path d="M106.6,34.6 C106.9,33.4 107,31.8 105.6,31.5 C103.5,31.2 101.5,33.5 101.2,36.5 C101,39.2 102.5,40.9 105,40.9 C107,40.8 108.6,40 109.8,39"/>
<path d="M109.8,39 C110.8,37 112.2,33.5 113.5,30 C114.7,26.5 115.9,23 117.2,21.8" stroke-width="2"/><path d="M117.2,21.8 C118.1,21.2 117.8,22.8 116.9,24.5 C115.6,27 114,29.5 113.3,32 C112.6,34.7 112.2,38 112.9,40 C113.6,41.2 115.8,41 117.6,40 C118.6,39.4 119.5,38.5 120,37.4" stroke-width="2.9"/>
<path d="M108.8,31.7 L118.4,31.7" stroke-width="2.5"/>
</g><circle cx="58.4" cy="13.1" r="1.7" fill="#000"/></svg>
<div class="a" style="left:232px;top:20.9px;width:24px;height:2.1px;background:#3d53b3;border-radius:1px"></div>
<div class="a" style="left:232px;top:26.9px;width:24px;height:2.1px;background:#3d53b3;border-radius:1px"></div>
<div class="a" style="left:232px;top:32.9px;width:24px;height:2.1px;background:#3d53b3;border-radius:1px"></div>
<div class="a" style="left:304.05px;top:9.05px;width:41.5px;height:41.5px;border-radius:50%;background:#ededee"></div>
<svg class="a" style="left:314px;top:17px;" width="22" height="24" viewBox="0 0 22 24" fill="none"><circle cx="14" cy="10.7" r="5.6" stroke="#3e5ec4" stroke-width="2.3"/><path d="M9.8 15 L4 20.8" stroke="#3e5ec4" stroke-width="3.4" stroke-linecap="round"/></svg>
<svg class="a" style="left:365px;top:22px;" width="15" height="15" viewBox="0 0 15 15" fill="none"><g stroke="#c5cde6" stroke-width="1"><rect x="1" y="5.5" width="13" height="3"/><rect x="2" y="8.5" width="11" height="6"/><path d="M7.5 5.5 L7.5 14.5 M7.5 5.5 C5 1 3 2 4 4 C4.5 5 6 5.5 7.5 5.5 C9 5.5 10.5 5 11 4 C12 2 10 1 7.5 5.5"/></g></svg>
<div class="t" style="left:386.9px;top:22.73px;font-size:14.2px;color:#56595e;font-weight:normal;">Mega Menu</div>
<svg class="a" style="left:472px;top:27px;" width="11" height="7" viewBox="0 0 11 7" fill="none"><path d="M1 1 L5.5 5.5 L10 1" stroke="#a3a6aa" stroke-width="1.3" fill="none"/></svg>
<div class="a" style="left:504.9px;top:19.5px;width:21px;height:21px;border-radius:50%;background:#d92550"></div>
<div class="t" style="left:511.8px;top:24.85px;font-size:11px;color:#fff;font-weight:bold;">4</div>
<div class="t" style="left:534.3px;top:22.39px;font-size:14.6px;color:#56595e;font-weight:normal;">Settings</div>
<svg class="a" style="left:596.5px;top:27px;" width="11" height="7" viewBox="0 0 11 7" fill="none"><path d="M1 1 L5.5 5.5 L10 1" stroke="#a3a6aa" stroke-width="1.3" fill="none"/></svg>
<svg class="a" style="left:626px;top:22px;" width="17" height="17" viewBox="0 0 17 17" fill="none"><g stroke="#c5cde6" stroke-width="1.1" fill="none"><circle cx="8.5" cy="8.5" r="5"/><path d="M8.5 1 L8.5 3" transform="rotate(0 8.5 8.5)"/><path d="M8.5 1 L8.5 3" transform="rotate(45 8.5 8.5)"/><path d="M8.5 1 L8.5 3" transform="rotate(90 8.5 8.5)"/><path d="M8.5 1 L8.5 3" transform="rotate(135 8.5 8.5)"/><path d="M8.5 1 L8.5 3" transform="rotate(180 8.5 8.5)"/><path d="M8.5 1 L8.5 3" transform="rotate(225 8.5 8.5)"/><path d="M8.5 1 L8.5 3" transform="rotate(270 8.5 8.5)"/><path d="M8.5 1 L8.5 3" transform="rotate(315 8.5 8.5)"/></g></svg>
<div class="t" style="left:649.5px;top:22.47px;font-size:14.5px;color:#56595e;font-weight:normal;">Projects</div>
<svg class="a" style="left:711.5px;top:27px;" width="11" height="7" viewBox="0 0 11 7" fill="none"><path d="M1 1 L5.5 5.5 L10 1" stroke="#a3a6aa" stroke-width="1.3" fill="none"/></svg>
<div class="a" style="left:1324.25px;top:8.25px;width:43.5px;height:43.5px;border-radius:50%;background:#e5eaf7"></div>
<svg class="a" style="left:1339.5px;top:22.5px;" width="14" height="14" viewBox="0 0 14 14" fill="none"><rect x="0" y="0" width="3.4" height="3.4" fill="#3f6ad8"/><rect x="0" y="5" width="3.4" height="3.4" fill="#3f6ad8"/><rect x="0" y="10" width="3.4" height="3.4" fill="#3f6ad8"/><rect x="5" y="0" width="3.4" height="3.4" fill="#3f6ad8"/><rect x="5" y="5" width="3.4" height="3.4" fill="#3f6ad8"/><rect x="5" y="10" width="3.4" height="3.4" fill="#3f6ad8"/><rect x="10" y="0" width="3.4" height="3.4" fill="#3f6ad8"/><rect x="10" y="5" width="3.4" height="3.4" fill="#3f6ad8"/><rect x="10" y="10" width="3.4" height="3.4" fill="#3f6ad8"/></svg>
<div class="a" style="left:1378.25px;top:8.25px;width:43.5px;height:43.5px;border-radius:50%;background:#fbe7ec"></div>
<svg class="a" style="left:1392px;top:20.5px;" width="16" height="18" viewBox="0 0 16 18" fill="none"><path d="M8 1.5 C8.8 1.5 9.2 2 9.2 2.6 C11.8 3.3 13 5.5 13 8.5 L13 11.5 L15 14.5 L1 14.5 L3 11.5 L3 8.5 C3 5.5 4.2 3.3 6.8 2.6 C6.8 2 7.2 1.5 8 1.5 Z" fill="#d92550"/><path d="M6.5 15.5 Q8 17.5 9.5 15.5 Z" fill="#d92550"/></svg>
<div class="a" style="left:1412.55px;top:8.55px;width:8.5px;height:8.5px;border-radius:50%;background:#d92550"></div>
<div class="a" style="left:1432.25px;top:8.25px;width:43.5px;height:43.5px;border-radius:50%;background:#e8e9ec"></div>
<svg class="a" style="left:1438px;top:14px" width="32" height="32" viewBox="0 0 32 32"><defs><clipPath id="fl"><circle cx="16" cy="16" r="16"/></clipPath></defs><g clip-path="url(#fl)"><rect x="0" y="4.5" width="32" height="7.7" fill="#373737"/><rect x="0" y="12.2" width="32" height="7.7" fill="#e53a35"/><rect x="0" y="19.9" width="32" height="7.6" fill="#fdd835"/></g></svg>
<div class="a" style="left:1486.75px;top:8.25px;width:43.5px;height:43.5px;border-radius:50%;background:#e3f6eb"></div>
<svg class="a" style="left:1499px;top:20px;" width="19" height="19" viewBox="0 0 19 19" fill="none"><circle cx="9.5" cy="9.5" r="8.6" stroke="#6a8a78" stroke-width=".9" fill="none"/><path d="M1 10 Q3 7.5 5 9 Q7 11 9.5 8 Q12 6 14 9 Q16 10.5 18 8.5 Q18.2 12 16.5 14.5 Q14 18 9.5 18.1 Q5 18 2.5 14.5 Q1 12.5 1 10Z" fill="#3ac47d"/></svg>
<div class="a" style="left:1555px;top:14.5px;width:1px;height:29px;background:#dee2e6"></div>
<svg class="a" style="left:1580px;top:8.8px" width="42" height="42" viewBox="0 0 42 42"><defs><clipPath id="hav"><circle cx="21" cy="21" r="21"/></clipPath>
<radialGradient id="hface" cx=".5" cy=".45" r=".6"><stop offset="0" stop-color="#dcae9e"/><stop offset="1" stop-color="#b98474"/></radialGradient></defs>
<g clip-path="url(#hav)"><rect width="42" height="42" fill="#ecdde0"/>
<rect x="0" y="16" width="42" height="14" fill="#b9bdb0" opacity=".6"/>
<path d="M8 40 C4 30 6 18 10 10 C14 3 24 1 31 5 C37 9 38 18 37 28 C36 34 34 38 32 42 L8 42 Z" fill="#3a2826"/>
<ellipse cx="26" cy="21.5" rx="9.5" ry="11.5" fill="url(#hface)"/>
<path d="M14 9 C18 4 28 4 33 9 C30 8 22 10 17 17 Z" fill="#3a2826"/>
<path d="M6 42 C8 34 14 31 21 31 C28 31 35 33 38 42 Z" fill="#35232f"/>
<path d="M12 36 L16 40 M18 34 L22 40 M25 34 L29 39 M30 35 L33 40" stroke="#7a5a70" stroke-width="1"/>
</g></svg>
<svg class="a" style="left:1634px;top:25px;" width="11" height="7" viewBox="0 0 11 7" fill="none"><path d="M1 1 L5.5 5.5 L10 1" stroke="#55595e" stroke-width="1.8" fill="none"/></svg>
<div class="t" style="left:1662.4px;top:13.83px;font-size:14.2px;color:#666a70;font-weight:bold;">Alina Mclourd</div>
<div class="t" style="left:1662.4px;top:33.75px;font-size:13.0px;color:#a3a6aa;font-weight:normal;">VP People Manager</div>
<div class="a" style="left:1795.3px;top:15.3px;width:28.5px;height:29px;background:#3f6ad8;border-radius:5px;box-shadow:0 .125rem .625rem rgba(63,106,216,.4),0 .0625rem .125rem rgba(63,106,216,.5)"></div>
<svg class="a" style="left:1803px;top:22px;" width="13" height="14" viewBox="0 0 13 14" fill="none"><g fill="#fff"><rect x="0.5" y="2.5" width="12" height="11" rx="1.5"/><rect x="2.5" y="0.5" width="1.6" height="3.5" rx=".8"/><rect x="8.9" y="0.5" width="1.6" height="3.5" rx=".8"/></g><rect x="0.5" y="4.5" width="12" height="1" fill="#3f6ad8"/></svg>
<div class="a" style="left:1847px;top:15.5px;width:1px;height:29px;background:#dee2e6"></div>
<div class="a" style="left:1872px;top:20.5px;width:24px;height:2.1px;background:#555a60;border-radius:1px"></div>
<div class="a" style="left:1872px;top:26.7px;width:24px;height:2.1px;background:#555a60;border-radius:1px"></div>
<div class="a" style="left:1872px;top:32.9px;width:24px;height:2.1px;background:#555a60;border-radius:1px"></div>
</body></html>
